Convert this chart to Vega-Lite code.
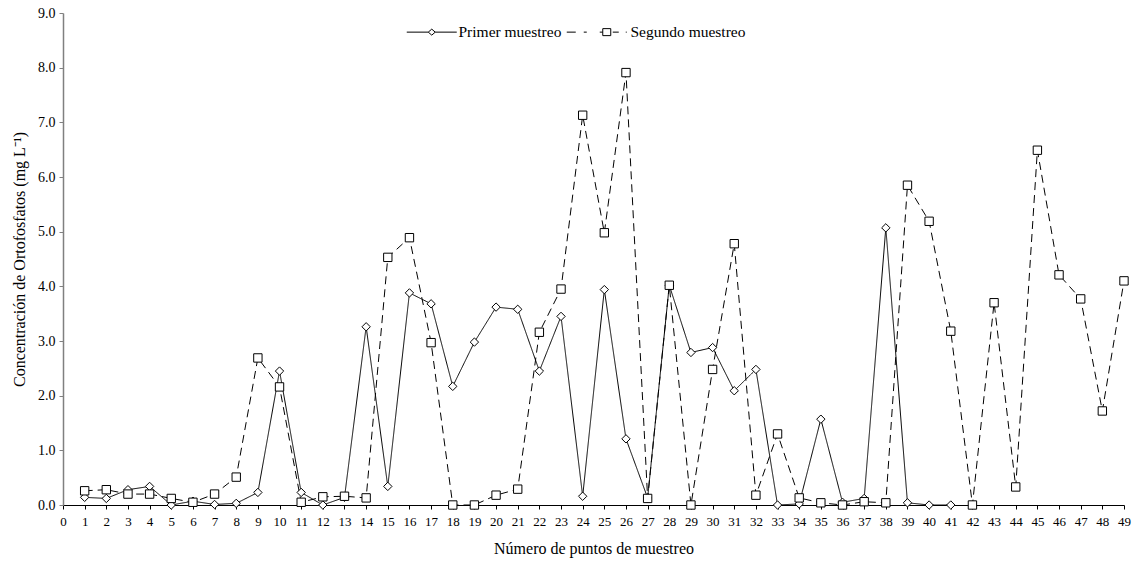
{
  "$schema": "https://vega.github.io/schema/vega-lite/v6.json",
  "width": 1061,
  "height": 492,
  "autosize": "none",
  "padding": {"left": 63, "top": 13, "right": 10, "bottom": 58},
  "background": "white",
  "config": {
    "font": "Liberation Serif",
    "view": {"stroke": null},
    "axis": {"grid": false, "labelFont": "Liberation Serif", "titleFont": "Liberation Serif", "labelColor": "#000", "titleColor": "#000", "titleFontWeight": "normal"}
  },
  "datasets": {
    "muestreo": [
      {"p": 1, "s": "Primer muestreo", "v": 0.14},
      {"p": 2, "s": "Primer muestreo", "v": 0.12},
      {"p": 3, "s": "Primer muestreo", "v": 0.28},
      {"p": 4, "s": "Primer muestreo", "v": 0.34},
      {"p": 5, "s": "Primer muestreo", "v": 0.0},
      {"p": 6, "s": "Primer muestreo", "v": 0.07},
      {"p": 7, "s": "Primer muestreo", "v": 0.01},
      {"p": 8, "s": "Primer muestreo", "v": 0.03},
      {"p": 9, "s": "Primer muestreo", "v": 0.23},
      {"p": 10, "s": "Primer muestreo", "v": 2.45},
      {"p": 11, "s": "Primer muestreo", "v": 0.23},
      {"p": 12, "s": "Primer muestreo", "v": 0.0},
      {"p": 13, "s": "Primer muestreo", "v": 0.14},
      {"p": 14, "s": "Primer muestreo", "v": 3.26},
      {"p": 15, "s": "Primer muestreo", "v": 0.34},
      {"p": 16, "s": "Primer muestreo", "v": 3.88},
      {"p": 17, "s": "Primer muestreo", "v": 3.68},
      {"p": 18, "s": "Primer muestreo", "v": 2.17},
      {"p": 19, "s": "Primer muestreo", "v": 2.98},
      {"p": 20, "s": "Primer muestreo", "v": 3.62},
      {"p": 21, "s": "Primer muestreo", "v": 3.58},
      {"p": 22, "s": "Primer muestreo", "v": 2.45},
      {"p": 23, "s": "Primer muestreo", "v": 3.45},
      {"p": 24, "s": "Primer muestreo", "v": 0.16},
      {"p": 25, "s": "Primer muestreo", "v": 3.94},
      {"p": 26, "s": "Primer muestreo", "v": 1.21},
      {"p": 27, "s": "Primer muestreo", "v": 0.13},
      {"p": 28, "s": "Primer muestreo", "v": 4.02},
      {"p": 29, "s": "Primer muestreo", "v": 2.79},
      {"p": 30, "s": "Primer muestreo", "v": 2.88},
      {"p": 31, "s": "Primer muestreo", "v": 2.09},
      {"p": 32, "s": "Primer muestreo", "v": 2.48},
      {"p": 33, "s": "Primer muestreo", "v": 0.0},
      {"p": 34, "s": "Primer muestreo", "v": 0.02},
      {"p": 35, "s": "Primer muestreo", "v": 1.57},
      {"p": 36, "s": "Primer muestreo", "v": 0.05},
      {"p": 37, "s": "Primer muestreo", "v": 0.12},
      {"p": 38, "s": "Primer muestreo", "v": 5.07},
      {"p": 39, "s": "Primer muestreo", "v": 0.04},
      {"p": 40, "s": "Primer muestreo", "v": 0.0},
      {"p": 41, "s": "Primer muestreo", "v": 0.0},
      {"p": 1, "s": "Segundo muestreo", "v": 0.26},
      {"p": 2, "s": "Segundo muestreo", "v": 0.28},
      {"p": 3, "s": "Segundo muestreo", "v": 0.2},
      {"p": 4, "s": "Segundo muestreo", "v": 0.2},
      {"p": 5, "s": "Segundo muestreo", "v": 0.12},
      {"p": 6, "s": "Segundo muestreo", "v": 0.05},
      {"p": 7, "s": "Segundo muestreo", "v": 0.2},
      {"p": 8, "s": "Segundo muestreo", "v": 0.51},
      {"p": 9, "s": "Segundo muestreo", "v": 2.69},
      {"p": 10, "s": "Segundo muestreo", "v": 2.16},
      {"p": 11, "s": "Segundo muestreo", "v": 0.05},
      {"p": 12, "s": "Segundo muestreo", "v": 0.15},
      {"p": 13, "s": "Segundo muestreo", "v": 0.16},
      {"p": 14, "s": "Segundo muestreo", "v": 0.13},
      {"p": 15, "s": "Segundo muestreo", "v": 4.53},
      {"p": 16, "s": "Segundo muestreo", "v": 4.89},
      {"p": 17, "s": "Segundo muestreo", "v": 2.97},
      {"p": 18, "s": "Segundo muestreo", "v": 0.0},
      {"p": 19, "s": "Segundo muestreo", "v": 0.0},
      {"p": 20, "s": "Segundo muestreo", "v": 0.18},
      {"p": 21, "s": "Segundo muestreo", "v": 0.29},
      {"p": 22, "s": "Segundo muestreo", "v": 3.16},
      {"p": 23, "s": "Segundo muestreo", "v": 3.95},
      {"p": 24, "s": "Segundo muestreo", "v": 7.13},
      {"p": 25, "s": "Segundo muestreo", "v": 4.98},
      {"p": 26, "s": "Segundo muestreo", "v": 7.91},
      {"p": 27, "s": "Segundo muestreo", "v": 0.12},
      {"p": 28, "s": "Segundo muestreo", "v": 4.02},
      {"p": 29, "s": "Segundo muestreo", "v": 0.0},
      {"p": 30, "s": "Segundo muestreo", "v": 2.48},
      {"p": 31, "s": "Segundo muestreo", "v": 4.78},
      {"p": 32, "s": "Segundo muestreo", "v": 0.18},
      {"p": 33, "s": "Segundo muestreo", "v": 1.3},
      {"p": 34, "s": "Segundo muestreo", "v": 0.13},
      {"p": 35, "s": "Segundo muestreo", "v": 0.04},
      {"p": 36, "s": "Segundo muestreo", "v": 0.0},
      {"p": 37, "s": "Segundo muestreo", "v": 0.06},
      {"p": 38, "s": "Segundo muestreo", "v": 0.04},
      {"p": 39, "s": "Segundo muestreo", "v": 5.85},
      {"p": 40, "s": "Segundo muestreo", "v": 5.19},
      {"p": 41, "s": "Segundo muestreo", "v": 3.18},
      {"p": 42, "s": "Segundo muestreo", "v": 0.0},
      {"p": 43, "s": "Segundo muestreo", "v": 3.7},
      {"p": 44, "s": "Segundo muestreo", "v": 0.33},
      {"p": 45, "s": "Segundo muestreo", "v": 6.49},
      {"p": 46, "s": "Segundo muestreo", "v": 4.21},
      {"p": 47, "s": "Segundo muestreo", "v": 3.77},
      {"p": 48, "s": "Segundo muestreo", "v": 1.72},
      {"p": 49, "s": "Segundo muestreo", "v": 4.1}
    ]
  },
  "data": {"name": "muestreo"},
  "encoding": {
    "x": {
      "field": "p", "type": "quantitative",
      "scale": {"domain": [0, 49], "nice": false, "zero": true},
      "axis": {
        "title": "Número de puntos de muestreo",
        "values": [0,1,2,3,4,5,6,7,8,9,10,11,12,13,14,15,16,17,18,19,20,21,22,23,24,25,26,27,28,29,30,31,32,33,34,35,36,37,38,39,40,41,42,43,44,45,46,47,48,49],
        "format": "d",
        "labelFontSize": 13, "labelOverlap": false, "labelFlush": false, "labelPadding": 6,
        "tickSize": 4, "tickColor": "#000", "domainColor": "#000", "domainWidth": 1,
        "titleFontSize": 16, "titlePadding": 12
      }
    },
    "y": {
      "field": "v", "type": "quantitative",
      "scale": {"domain": [0, 9], "nice": false},
      "axis": {
        "title": "Concentración de Ortofosfatos (mg L⁻¹)",
        "values": [0,1,2,3,4,5,6,7,8,9],
        "format": ".1f",
        "labelFontSize": 14, "labelPadding": 4,
        "tickSize": 4, "tickColor": "#808080", "domainColor": "#808080", "domainWidth": 1.5,
        "titleFontSize": 16, "titlePadding": 10
      }
    }
  },
  "layer": [
    {
      "mark": {"type": "line", "color": "#000", "strokeWidth": 1},
      "encoding": {
        "detail": {"field": "s", "type": "nominal"},
        "strokeDash": {
          "condition": {"test": "datum.s === 'Segundo muestreo'", "value": [8, 5]},
          "value": [1, 0]
        }
      }
    },
    {
      "mark": {"type": "point", "filled": true, "fill": "white", "stroke": "#000", "strokeWidth": 1, "opacity": 1, "size": 70},
      "encoding": {
        "shape": {
          "field": "s", "type": "nominal",
          "scale": {"domain": ["Primer muestreo", "Segundo muestreo"], "range": ["diamond", "square"]},
          "legend": null
        }
      }
    },
    {
      "transform": [{"filter": "datum.p < 0"}],
      "mark": {"type": "point", "filled": false, "color": "#000", "strokeWidth": 1, "opacity": 1, "size": 100},
      "encoding": {
        "shape": {
          "field": "s", "type": "nominal",
          "scale": {
            "domain": ["Primer muestreo", "Segundo muestreo"],
            "range": [
              "M-1.6,0L2.7,0M4.1,0L8.4,0M3.4,-0.6L4.1,0L3.4,0.6L2.7,0Z",
              "M-4,0L-2.2,0M-0.6,0L0,0M2.6,0L3.2,0M3.2,-0.7L4.8,-0.7L4.8,0.7L3.2,0.7ZM5.2,0L6.4,0M7.8,0L8,0"
            ]
          },
          "legend": {
            "title": null,
            "orient": "none",
            "legendX": 344,
            "legendY": 11,
            "direction": "horizontal",
            "labelFontSize": 15.5,
            "labelFont": "Liberation Serif",
            "labelColor": "#000",
            "symbolSize": 100,
            "symbolStrokeWidth": 1,
            "symbolStrokeColor": "#000",
            "symbolOpacity": 1,
            "labelOffset": 36,
            "columnPadding": 2,
            "padding": 0
          }
        }
      }
    }
  ],
  "resolve": {"scale": {"shape": "independent"}, "legend": {"shape": "independent"}}
}
